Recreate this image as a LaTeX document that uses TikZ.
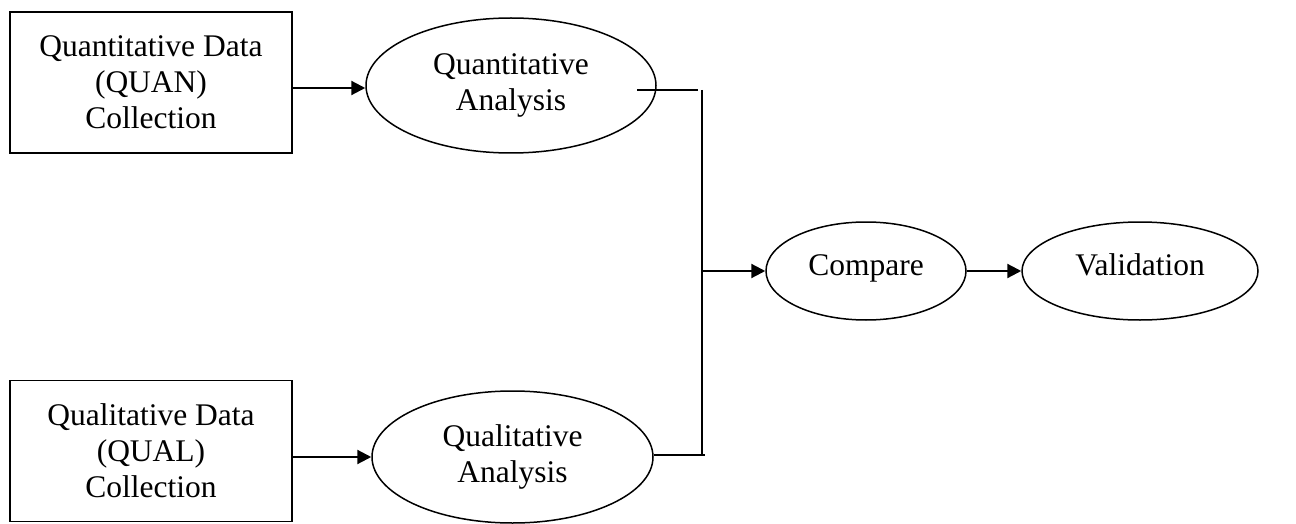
\documentclass[tikz,border=0pt]{standalone}
\usepackage{fontspec}
\setmainfont{Liberation Serif}
\usetikzlibrary{shapes.geometric,arrows.meta}
\begin{document}
\begin{tikzpicture}[x=1pt,y=-1pt,
  every node/.style={font=\fontsize{31.5}{36}\selectfont, align=center, inner sep=0pt},
  databox/.style={draw, line width=1.5pt, minimum width=282pt, minimum height=141pt},
  oval/.style={draw, ellipse, line width=1.5pt},
  oneline/.style={text height=21pt, text depth=13pt},
  arr/.style={line width=2.2pt, -{Triangle[length=14pt,width=14pt]}},
  conn/.style={line width=1.5pt}]
\useasboundingbox (0,0) rectangle (1296,524);
\node[databox] (b1) at (151,82.5) {Quantitative Data\\(QUAN)\\Collection};
\node[databox] (b2) at (151,451) {Qualitative Data\\(QUAL)\\Collection};
\node[oval, minimum width=290pt, minimum height=135pt] (qa) at (511,85.5) {Quantitative\\Analysis};
\node[oval, minimum width=281pt, minimum height=132pt] (ql) at (512.5,457) {Qualitative\\Analysis};
\node[oval, oneline, minimum width=200pt, minimum height=98pt] (cmp) at (866,271) {Compare};
\node[oval, oneline, minimum width=236pt, minimum height=98pt] (val) at (1140,271) {Validation};
\coordinate (t0) at (637,90);
\coordinate (t1) at (698,90);
\coordinate (j1) at (702,90);
\coordinate (j2) at (702,455);
\coordinate (j3) at (705,455);
\draw[arr] (b1.east |- 0,88) -- (qa.west |- 0,88);
\draw[arr] (b2.east |- ql.west) -- (ql.west);
\draw[conn] (t0) -- (t1);
\draw[conn] (j1) -- (j2);
\draw[conn] (ql.east |- j3) -- (j3);
\draw[arr] (j1 |- cmp.west) -- (cmp.west);
\draw[arr] (cmp.east) -- (val.west);
\end{tikzpicture}
\end{document}
